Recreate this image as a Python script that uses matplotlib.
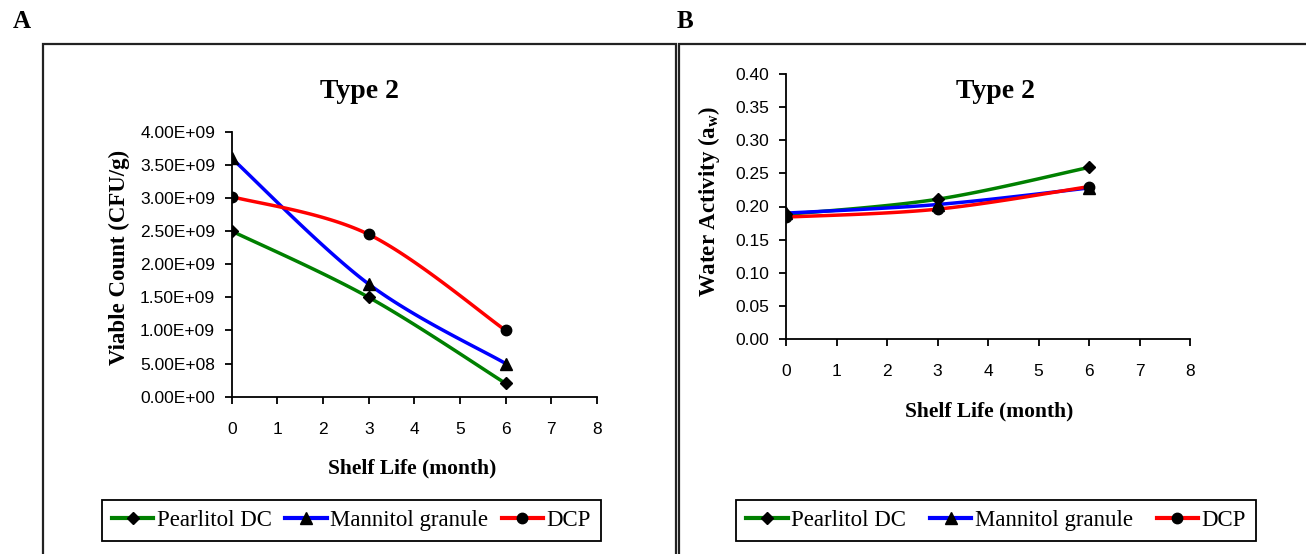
import numpy as np
import matplotlib
matplotlib.use('Agg')
import matplotlib.pyplot as plt
from matplotlib.lines import Line2D
from matplotlib.patches import Rectangle

plt.rcParams['font.family'] = ['Liberation Sans', 'DejaVu Sans']
plt.rcParams['mathtext.fontset'] = 'custom'
plt.rcParams['mathtext.rm'] = 'Liberation Serif:bold'
plt.rcParams['mathtext.bf'] = 'Liberation Serif:bold'

# data
months = [0, 3, 6]
series_names = ['Pearlitol DC', 'Mannitol granule', 'DCP']
viable_pearlitol = [2.50e9, 1.50e9, 0.20e9]
viable_mannitol = [3.60e9, 1.70e9, 0.50e9]
viable_dcp = [3.02e9, 2.45e9, 1.00e9]
aw_pearlitol = [0.188, 0.211, 0.259]
aw_mannitol = [0.190, 0.203, 0.228]
aw_dcp = [0.184, 0.196, 0.230]

colors = ['#008000', '#0000FF', '#FF0000']
markers = ['D', '^', 'o']
msizes = [6.5, 8.5, 7.5]

serif = ['Liberation Serif', 'DejaVu Serif']


def smooth(x, y, n=40):
    # excel-like smoothed line (catmull-rom bezier)
    x = np.asarray(x, float)
    y = np.asarray(y, float)
    px = np.concatenate([[x[0]], x, [x[-1]]])
    py = np.concatenate([[y[0]], y, [y[-1]]])
    xs, ys = [], []
    t = np.linspace(0, 1, n)
    for i in range(1, len(x)):
        p0 = np.array([px[i], py[i]])
        p3 = np.array([px[i + 1], py[i + 1]])
        c1 = p0 + (p3 - np.array([px[i - 1], py[i - 1]])) / 6
        c2 = p3 - (np.array([px[i + 2], py[i + 2]]) - p0) / 6
        b = ((1 - t) ** 3)[:, None] * p0 + (3 * (1 - t) ** 2 * t)[:, None] * c1 \
            + (3 * (1 - t) * t ** 2)[:, None] * c2 + (t ** 3)[:, None] * p3
        xs.extend(b[:, 0])
        ys.extend(b[:, 1])
    return xs, ys


W, H = 1306, 554
fig = plt.figure(figsize=(W / 100, H / 100), dpi=100)


def fx(px):
    return px / W


def fy(py):
    return 1 - py / H


# panel frames
fig.patches.append(Rectangle((fx(43), fy(560)), fx(676 - 43), fy(44) - fy(560),
                             transform=fig.transFigure, fill=False, ec='#222222', lw=1.6))
fig.patches.append(Rectangle((fx(679), fy(560)), fx(1312 - 679), fy(44) - fy(560),
                             transform=fig.transFigure, fill=False, ec='#222222', lw=1.6))

fig.text(fx(22), fy(21), 'A', family=serif, weight='bold', fontsize=18, ha='center', va='center')
fig.text(fx(685), fy(21), 'B', family=serif, weight='bold', fontsize=18, ha='center', va='center')

axA = fig.add_axes([fx(231.7), fy(396.7), fx(597 - 231.7), fy(131.7) - fy(396.7)])
axB = fig.add_axes([fx(786), fy(339), fx(1190 - 786), fy(74) - fy(339)])

panels = [
    (axA, [viable_pearlitol, viable_mannitol, viable_dcp], (0, 4e9), np.arange(0, 4.01e9, 0.5e9)),
    (axB, [aw_pearlitol, aw_mannitol, aw_dcp], (0, 0.4), np.arange(0, 0.401, 0.05)),
]

for ax, data, ylim, yticks in panels:
    for vals, c, m, ms in zip(data, colors, markers, msizes):
        sx, sy = smooth(months, vals)
        ax.plot(sx, sy, color=c, lw=2.5, solid_capstyle='butt', zorder=2)
        ax.plot(months, vals, ls='none', marker=m, ms=ms, color='black', zorder=3)
    ax.set_xlim(0, 8)
    ax.set_ylim(*ylim)
    ax.set_xticks(range(0, 9))
    ax.set_yticks(yticks)
    for s in ['top', 'right']:
        ax.spines[s].set_visible(False)
    for s in ['left', 'bottom']:
        ax.spines[s].set_linewidth(1.3)
    ax.tick_params(direction='out', length=5, width=1.3, labelsize=12.5)
    ax.tick_params(axis='x', pad=13)
    ax.tick_params(axis='y', pad=7)
    ax.patch.set_alpha(0)
    for sp in ax.spines.values():
        sp.set_clip_on(False)

axA.set_yticklabels([f'{v:.2E}' for v in axA.get_yticks()])
axB.set_yticklabels([f'{v:.2f}' for v in axB.get_yticks()])

# titles and axis labels
fig.text(fx(360), fy(92), 'Type 2', family=serif, weight='bold', fontsize=20, ha='center', va='center')
fig.text(fx(996), fy(92), 'Type 2', family=serif, weight='bold', fontsize=20, ha='center', va='center')
fig.text(fx(119), fy(257), 'Viable Count (CFU/g)', family=serif, weight='bold', fontsize=16.5,
         rotation=90, ha='center', va='center')
fig.text(fx(709), fy(201), r'Water Activity (a$_\mathbf{w}$)', family=serif, weight='bold', fontsize=16.5,
         rotation=90, ha='center', va='center')
fig.text(fx(412), fy(468), 'Shelf Life (month)', family=serif, weight='bold', fontsize=15.5,
         ha='center', va='center')
fig.text(fx(989), fy(411), 'Shelf Life (month)', family=serif, weight='bold', fontsize=15.5,
         ha='center', va='center')

# legends
handles = [Line2D([], [], color=c, lw=3, marker=m, ms=ms, mfc='black', mec='black')
           for c, m, ms in zip(colors, markers, msizes)]
for cx, colsp in [(351.5, 0.6), (996, 1.05)]:
    leg = fig.legend(handles, series_names, loc='center', bbox_to_anchor=(fx(cx), fy(520.5)),
                     ncol=3, frameon=True, fancybox=False, edgecolor='black', framealpha=1,
                     prop={'family': serif, 'size': 16.5}, handlelength=1.8, handletextpad=0.15,
                     columnspacing=colsp, borderpad=0.45, borderaxespad=0)
    leg.get_frame().set_linewidth(1.3)

fig.savefig('out.png', dpi=100)
